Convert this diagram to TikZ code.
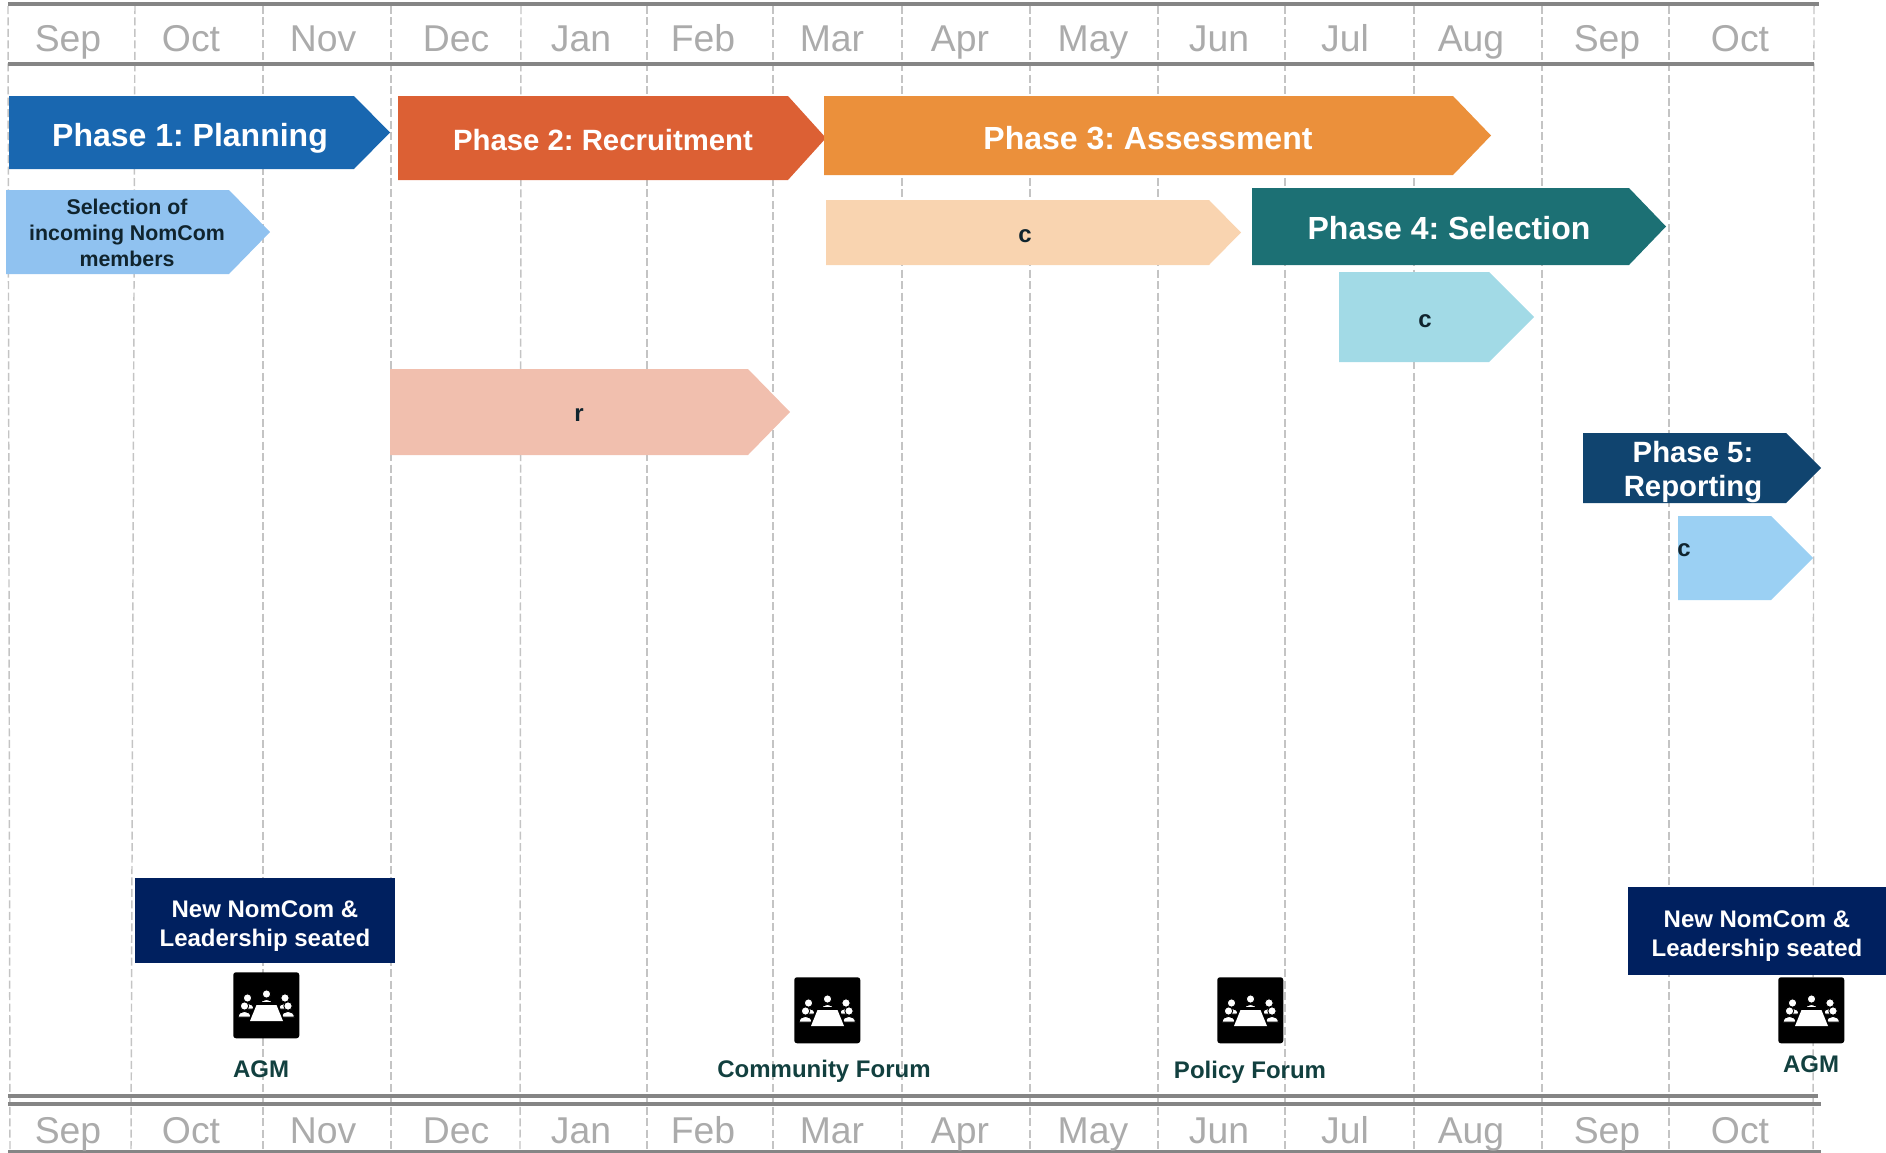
\documentclass[tikz,border=0pt]{standalone}
\usepackage{fontspec}
\setmainfont{Liberation Sans}
\definecolor{phaseA}{HTML}{1967B0}
\definecolor{phaseB}{HTML}{DC6034}
\definecolor{phaseC}{HTML}{EB903B}
\definecolor{phaseD}{HTML}{1C7074}
\definecolor{phaseE}{HTML}{10446F}
\definecolor{selblue}{HTML}{90C2F0}
\definecolor{peach}{HTML}{F9D4B0}
\definecolor{teallight}{HTML}{A2DAE6}
\definecolor{salmon}{HTML}{F1BFAE}
\definecolor{skyblue}{HTML}{9BD0F3}
\definecolor{navybox}{HTML}{00205F}
\definecolor{darktext}{HTML}{10242E}
\definecolor{forumtext}{HTML}{12403F}
\definecolor{rulegray}{HTML}{858585}
\definecolor{dashgray}{HTML}{C4C4C4}
\definecolor{monthgray}{HTML}{ABABAB}
\tikzset{
  x=0.75pt,y=-0.75pt,
  gridline/.style={draw=dashgray,line width=1.1pt,dash pattern=on 6pt off 2.6pt},
  thickrule/.style={draw=rulegray,line width=3.6pt},
  thinrule/.style={draw=rulegray,line width=2.5pt},
  month/.style={text=monthgray,font=\fontsize{28}{32}\selectfont,anchor=base,inner sep=0pt},
  bigphase/.style={text=white,font=\bfseries\fontsize{24}{28}\selectfont,align=center,inner sep=0pt},
  midphase/.style={text=white,font=\bfseries\fontsize{22}{26}\selectfont,align=center,inner sep=0pt},
  smalldark/.style={text=darktext,font=\bfseries\fontsize{16}{19.3}\selectfont,align=center,inner sep=0pt},
  letter/.style={text=darktext,font=\bfseries\fontsize{18}{21}\selectfont,inner sep=0pt},
  seatbox/.style={fill=navybox,text=white,font=\bfseries\fontsize{18}{21.7}\selectfont,align=center},
  forum/.style={text=forumtext,font=\bfseries\fontsize{18}{21}\selectfont,inner sep=0pt},
  iconbox/.style={fill=black,rounded corners=2pt},
}
% left, shoulder, tip, top, bottom, colour
\newcommand{\pentarrow}[6]{\fill[#6] (#1,#4) -- (#2,#4) -- (#3,{(#4+#5)/2}) -- (#2,#5) -- (#1,#5) -- cycle;}
% one person of the icon, at (x,y) in pixels
\newcommand{\iconperson}[2]{%
  \fill[white,draw=black,line width=0.7pt] (#1,#2) circle[radius=4.2];
  \fill[white,draw=black,line width=0.7pt] (#1-6.5,#2+11) .. controls (#1-6,#2+3.5) and (#1+6,#2+3.5) .. (#1+6.5,#2+11) -- cycle;}
% meeting icon, from left/top corner
\newcommand{\meeticon}[3]{%
  \begin{scope}[shift={(#1,#2)}]
    \node[iconbox,minimum width=49.5pt,minimum height=49.5pt,inner sep=0pt,anchor=north west] (#3) at (0,0) {};
    \iconperson{33.5}{22}
    \iconperson{14.5}{26}
    \iconperson{52}{26}
    \iconperson{11.5}{34}
    \iconperson{55}{34}
    \fill[black] (22,30) -- (45,30) -- (52,50) -- (15,50) -- cycle;
    \fill[white] (23.5,33) -- (43.5,33) -- (50,49) -- (17,49) -- cycle;
  \end{scope}}
\begin{document}
\begin{tikzpicture}
\frenchspacing
\useasboundingbox (0,0) rectangle (1886,1153);
% grid
\foreach \a/\b in {8/10,135/131,263/263,391/391,521/520,647/647,773/773,902/902,1030/1030,1158/1158,1285/1285,1414/1414,1542/1542,1669/1669,1814/1813}
  \draw[gridline] (\a,6) -- (\b,1150);
% rules
\draw[thickrule] (8,4) -- (1819,4);
\draw[thinrule] (8,64) -- (1814,64);
\draw[thickrule] (8,1096) -- (1818,1096);
\draw[thinrule] (8,1104) -- (1821,1104);
\draw[thinrule] (8,1152) -- (1821,1152);
% months
\foreach \mx/\mn in {68/Sep,191/Oct,323/Nov,456/Dec,581/Jan,703/Feb,832/Mar,960/Apr,1093/May,1219/Jun,1345/Jul,1471/Aug,1607/Sep,1740/Oct}{
  \node[month] (top\mx) at (\mx,51) {\mn};
  \node[month] (bot\mx) at (\mx,1143) {\mn};
}
% arrows
\pentarrow{9}{354}{390}{96}{169}{phaseA}
\pentarrow{398}{788}{826}{96}{180}{phaseB}
\pentarrow{824}{1453}{1491}{96}{175}{phaseC}
\pentarrow{6}{229}{270}{190}{274}{selblue}
\pentarrow{826}{1209}{1241}{200}{265}{peach}
\pentarrow{1252}{1629}{1666}{188}{265}{phaseD}
\pentarrow{1339}{1489}{1534}{272}{362}{teallight}
\pentarrow{390}{748}{790}{369}{455}{salmon}
\pentarrow{1583}{1786}{1821}{433}{503}{phaseE}
\pentarrow{1678}{1771}{1813}{516}{600}{skyblue}
% arrow labels
\node[bigphase] (p1) at (190,138) {Phase 1: Planning};
\node[midphase] (p2) at (603,140) {Phase 2: Recruitment};
\node[bigphase] (p3) at (1148,138) {Phase 3: Assessment};
\node[smalldark] (sel) at (127,233) {Selection of\\incoming NomCom\\members};
\node[letter] (c1) at (1025,236) {c};
\node[bigphase] (p4) at (1449,228) {Phase 4: Selection};
\node[letter] (c2) at (1425,321) {c};
\node[letter] (r1) at (579,415) {r};
\node[midphase,font=\bfseries\fontsize{22}{25.5}\selectfont] (p5) at (1693,472) {Phase 5:\\Reporting};
\node[letter] (c3) at (1684,550) {c};
% seated boxes
\fill[navybox] (135,878) rectangle (395,963);
\fill[navybox] (1628,887) rectangle (1886,975);
\node[text=white,font=\bfseries\fontsize{18}{21.7}\selectfont,align=center,inner sep=0pt] (seatA) at (265,926) {New NomCom \&\\Leadership seated};
\node[text=white,font=\bfseries\fontsize{18}{21.7}\selectfont,align=center,inner sep=0pt] (seatB) at (1757,936) {New NomCom \&\\Leadership seated};
% icons
\meeticon{233}{972}{iconA}
\meeticon{794}{977}{iconB}
\meeticon{1217}{977}{iconC}
\meeticon{1778}{977}{iconD}
% forum labels
\node[forum] (agmA) at (261,1069) {AGM};
\node[forum] (comm) at (824,1071) {Community Forum};
\node[forum] (pol) at (1250,1072) {Policy Forum};
\node[forum] (agmB) at (1811,1064) {AGM};
\end{tikzpicture}
\end{document}
